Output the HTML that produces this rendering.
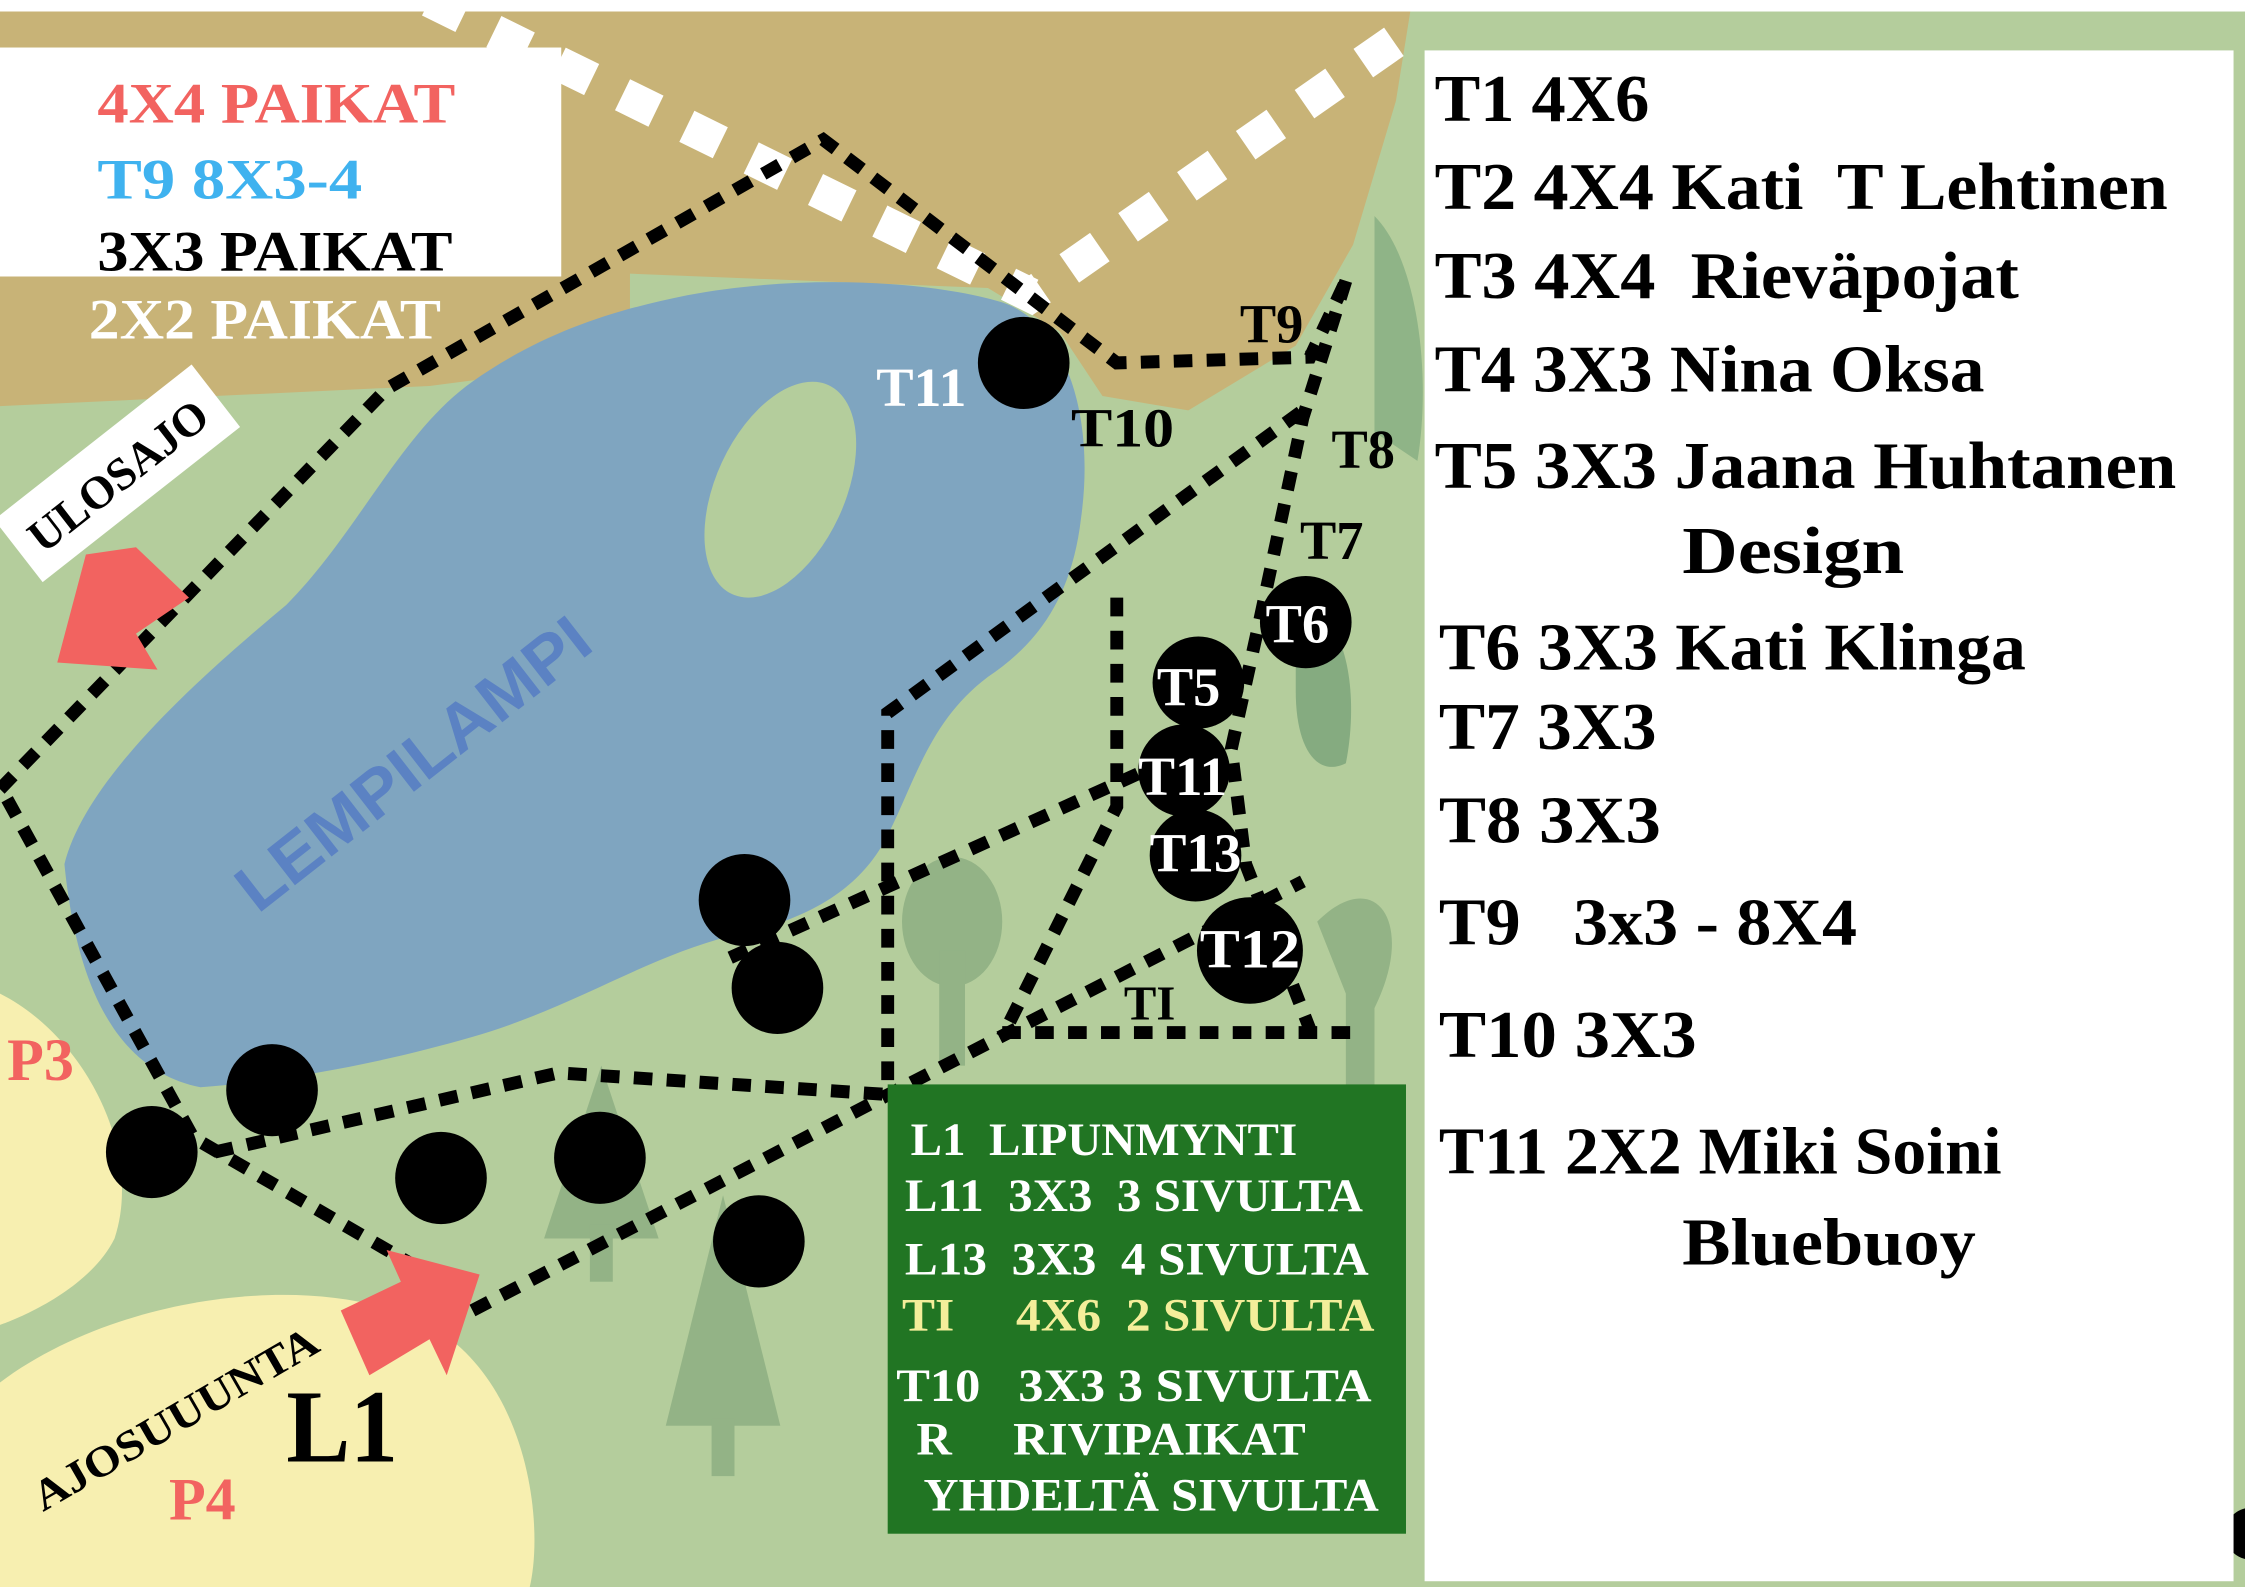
<!DOCTYPE html>
<html><head><meta charset="utf-8"><style>
html,body{margin:0;padding:0;background:#fff}
svg{display:block}
text{font-family:"Liberation Serif",serif;font-weight:bold;white-space:pre}
</style></head><body>
<svg width="2245" height="1587" viewBox="0 0 1568 1102" preserveAspectRatio="none" xmlns="http://www.w3.org/2000/svg" xml:space="preserve">
<rect x="0" y="0" width="1568" height="1102" fill="#b4cd9c"/>
<rect x="0" y="0" width="1568" height="8" fill="#fff"/>
<path d="M0,690 C60,720 100,800 80,860 C60,900 0,920 0,920 Z" fill="#f7efb0"/>
<path d="M0,960 C80,900 220,880 300,920 C370,960 380,1060 370,1102 L0,1102 Z" fill="#f7efb0"/>
<path d="M0,8 L985,8 L975,70 L945,170 L905,240 L830,285 L770,275 L740,230 L690,200 L440,190 L440,250 L300,268 L0,282 Z" fill="#c8b377"/>
<path d="M960,150 C990,180 1000,260 990,320 L960,300 Z" fill="#8fb487"/>
<path d="M905,420 C940,420 950,480 940,530 C920,540 905,520 905,480 Z" fill="#85ab80"/>
<path d="M45,600 C60,540 140,470 200,420 C250,370 280,300 330,265 C380,230 430,215 480,205 C560,190 650,195 700,210 C745,225 765,290 755,360 C748,420 720,450 690,470 C650,500 640,540 620,580 C600,620 560,640 510,650 C450,665 400,700 330,720 C260,740 200,750 140,755 C90,745 55,700 45,600 Z" fill="#7fa5c0"/>
<ellipse cx="545" cy="340" rx="45" ry="80" transform="rotate(25 545 340)" fill="#b4cd9c"/>
<text x="0" y="0" font-size="46" fill="#5b82c3" transform="translate(180,635) rotate(-38)" style="font-family:'Liberation Sans',sans-serif" textLength="300" lengthAdjust="spacingAndGlyphs">LEMPILAMPI</text>
<g fill="#93b386">
<ellipse cx="665" cy="640" rx="35" ry="45"/><rect x="656" y="660" width="18" height="80"/>
<path d="M420,740 L460,860 L380,860 Z"/><rect x="412" y="850" width="16" height="40"/>
<path d="M505,830 L545,990 L465,990 Z"/><rect x="497" y="985" width="16" height="40"/>
<path d="M920,640 C960,600 990,640 960,700 L960,760 L940,760 L940,690 Z"/>
</g>
<path d="M300,0 L720,205 L975,28" fill="none" stroke="#fff" stroke-width="24" stroke-dasharray="26 24"/>
<g fill="none" stroke="#000" stroke-width="9" stroke-dasharray="13 10">
<path d="M0,548 L270,270 L575,97 L780,252 L915,248 L940,195"/>
<path d="M940,195 L910,290 L880,430 L860,520 L870,600 L915,715"/>
<path d="M5,555 L135,790 L300,885"/>
<path d="M150,800 L390,745 L620,760"/>
<path d="M330,910 L640,750 L910,612"/>
<path d="M620,750 L620,495 L910,285"/>
<path d="M510,665 L800,535"/>
<path d="M780,415 L780,560 L700,720"/>
<path d="M700,717 L945,717"/>
</g>
<g fill="#000">
<circle cx="715" cy="252" r="32"/><circle cx="912" cy="432" r="32"/><circle cx="837" cy="474" r="32"/>
<circle cx="827" cy="535" r="32"/><circle cx="835" cy="594" r="32"/><circle cx="873" cy="660" r="37"/>
<circle cx="520" cy="625" r="32"/><circle cx="543" cy="686" r="32"/><circle cx="190" cy="757" r="32"/>
<circle cx="106" cy="800" r="32"/><circle cx="308" cy="818" r="32"/><circle cx="419" cy="804" r="32"/>
<circle cx="530" cy="862" r="32"/><circle cx="1572" cy="1065" r="18"/>
</g>
<path d="M60,385 L95,380 L132,415 L95,440 L110,465 L40,460 Z" fill="#f26360"/>
<path d="M238,910 L280,890 L270,868 L335,885 L312,955 L300,930 L258,955 Z" fill="#f26360"/>
<rect x="0" y="33" width="392" height="159" fill="#fff"/>
<text x="68" y="85" font-size="40" fill="#f26360" textLength="250" lengthAdjust="spacingAndGlyphs">4X4 PAIKAT</text>
<text x="68" y="138" font-size="40" fill="#3fb2ef" textLength="185" lengthAdjust="spacingAndGlyphs">T9 8X3-4</text>
<text x="68" y="188" font-size="40" fill="#000" textLength="248" lengthAdjust="spacingAndGlyphs">3X3 PAIKAT</text>
<text x="62" y="235" font-size="40" fill="#fff" textLength="246" lengthAdjust="spacingAndGlyphs">2X2 PAIKAT</text>
<g transform="translate(30,385) rotate(-38)">
<rect x="-12" y="-40" width="175" height="55" fill="#fff"/>
<text x="0" y="0" font-size="32" fill="#000" textLength="150" lengthAdjust="spacingAndGlyphs">ULOSAJO</text>
</g>
<text transform="translate(30,1050) rotate(-30)" font-size="30" fill="#000" textLength="225" lengthAdjust="spacingAndGlyphs">AJOSUUUNTA</text>
<text x="200" y="1015" font-size="72" fill="#000" textLength="78" lengthAdjust="spacingAndGlyphs">L1</text>
<text x="5" y="750" font-size="42" fill="#f26360">P3</text>
<text x="118" y="1055" font-size="42" fill="#f26360">P4</text>
<g font-size="38">
<text x="612" y="282" fill="#fff" textLength="63" lengthAdjust="spacingAndGlyphs">T11</text>
<text x="748" y="310" fill="#000" textLength="72" lengthAdjust="spacingAndGlyphs">T10</text>
<text x="866" y="238" fill="#000">T9</text>
<text x="930" y="325" fill="#000">T8</text>
<text x="908" y="388" fill="#000">T7</text>
<text x="884" y="446" fill="#fff">T6</text>
<text x="808" y="490" fill="#fff">T5</text>
<text x="795" y="552" fill="#fff" textLength="62" lengthAdjust="spacingAndGlyphs">T11</text>
<text x="803" y="605" fill="#fff" textLength="64" lengthAdjust="spacingAndGlyphs">T13</text>
<text x="838" y="672" fill="#fff" textLength="70" lengthAdjust="spacingAndGlyphs">T12</text>
<text x="785" y="708" fill="#000" font-size="34">TI</text>
</g>
<rect x="620" y="753" width="362" height="312" fill="#217523"/>
<g font-size="32" fill="#fff">
<text x="636" y="802" textLength="270" lengthAdjust="spacingAndGlyphs">L1  LIPUNMYNTI</text>
<text x="632" y="841" textLength="320" lengthAdjust="spacingAndGlyphs">L11  3X3  3 SIVULTA</text>
<text x="632" y="885" textLength="324" lengthAdjust="spacingAndGlyphs">L13  3X3  4 SIVULTA</text>
<text x="630" y="924" fill="#f4ee9a" textLength="330" lengthAdjust="spacingAndGlyphs">TI     4X6  2 SIVULTA</text>
<text x="626" y="973" textLength="332" lengthAdjust="spacingAndGlyphs">T10   3X3 3 SIVULTA</text>
<text x="640" y="1010" textLength="272" lengthAdjust="spacingAndGlyphs">R     RIVIPAIKAT</text>
<text x="645" y="1049" textLength="318" lengthAdjust="spacingAndGlyphs">YHDELTÄ SIVULTA</text>
</g>
<rect x="995" y="35" width="565" height="1063" fill="#fff"/>
<g font-size="46" fill="#000">
<text x="1002" y="84" textLength="150" lengthAdjust="spacingAndGlyphs">T1 4X6</text>
<text x="1002" y="145" textLength="512" lengthAdjust="spacingAndGlyphs">T2 4X4 Kati  T Lehtinen</text>
<text x="1002" y="207" textLength="408" lengthAdjust="spacingAndGlyphs">T3 4X4  Rieväpojat</text>
<text x="1002" y="272" textLength="384" lengthAdjust="spacingAndGlyphs">T4 3X3 Nina Oksa</text>
<text x="1002" y="339" textLength="518" lengthAdjust="spacingAndGlyphs">T5 3X3 Jaana Huhtanen</text>
<text x="1175" y="398" textLength="155" lengthAdjust="spacingAndGlyphs">Design</text>
<text x="1005" y="465" textLength="410" lengthAdjust="spacingAndGlyphs">T6 3X3 Kati Klinga</text>
<text x="1005" y="520" textLength="152" lengthAdjust="spacingAndGlyphs">T7 3X3</text>
<text x="1005" y="585" textLength="155" lengthAdjust="spacingAndGlyphs">T8 3X3</text>
<text x="1005" y="656" textLength="292" lengthAdjust="spacingAndGlyphs">T9   3x3 - 8X4</text>
<text x="1005" y="734" textLength="180" lengthAdjust="spacingAndGlyphs">T10 3X3</text>
<text x="1005" y="815" textLength="393" lengthAdjust="spacingAndGlyphs">T11 2X2 Miki Soini</text>
<text x="1175" y="878" textLength="205" lengthAdjust="spacingAndGlyphs">Bluebuoy</text>
</g>
</svg>
</body></html>
